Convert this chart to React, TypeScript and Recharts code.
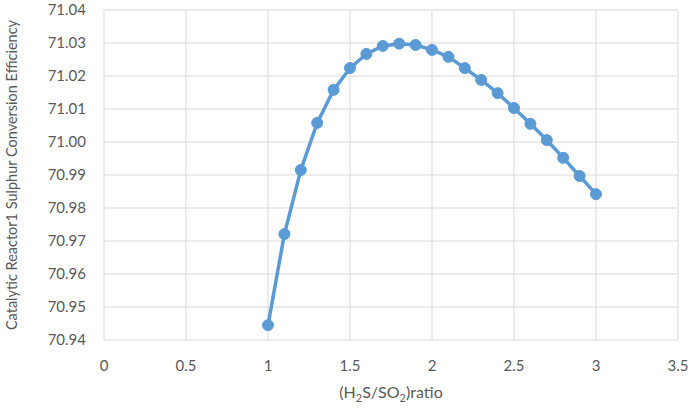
import { CartesianGrid, Line, LineChart, XAxis, YAxis } from "recharts";

const ratio = [1.0, 1.1, 1.2, 1.3, 1.4, 1.5, 1.6, 1.7, 1.8, 1.9, 2.0, 2.1, 2.2, 2.3, 2.4, 2.5, 2.6, 2.7, 2.8, 2.9, 3.0];
const efficiency = [
  70.9445, 70.9721, 70.9915, 71.0058, 71.0158, 71.0224, 71.0267, 71.0291, 71.0298, 71.0294, 71.0279,
  71.0258, 71.0224, 71.0188, 71.0148, 71.0103, 71.0055, 71.0006, 70.9952, 70.9897, 70.9842,
];
const xTicks = [0, 0.5, 1, 1.5, 2, 2.5, 3, 3.5];
const yTicks = [70.94, 70.95, 70.96, 70.97, 70.98, 70.99, 71.0, 71.01, 71.02, 71.03, 71.04];

const data = ratio.map((r, i) => ({ ratio: r, eff: efficiency[i] }));

const FONT = "Lato, 'Open Sans', sans-serif";
const TEXT = "#595959";

function XTitle(props: any) {
  const { viewBox } = props;
  const cx = viewBox.x + viewBox.width / 2;
  return (
    <text x={cx} y={398} textAnchor="middle" fill={TEXT} fontSize={16} fontFamily={FONT}>
      (H<tspan fontSize={11} dy={4}>2</tspan>
      <tspan dy={-4}>S/SO</tspan>
      <tspan fontSize={11} dy={4}>2</tspan>
      <tspan dy={-4}>)ratio</tspan>
    </text>
  );
}

function YTitle(props: any) {
  const { viewBox } = props;
  const cy = viewBox.y + viewBox.height / 2;
  return (
    <text
      x={11}
      y={cy}
      transform={`rotate(-90, 11, ${cy})`}
      textAnchor="middle"
      dominantBaseline="central"
      fill={TEXT}
      fontSize={14.5}
      fontFamily={FONT}
    >
      Catalytic Reactor1 Sulphur Conversion Efficiency
    </text>
  );
}

export default function App() {
  return (
    <div style={{ position: "absolute", left: 0, top: 0, background: "#fff" }}>
      <LineChart width={691} height={410} data={data} margin={{ top: 10, right: 13, bottom: 0, left: 0 }}>
        <CartesianGrid stroke="#d9d9d9" strokeWidth={1} />
        <XAxis
          dataKey="ratio"
          type="number"
          domain={[0, 3.5]}
          ticks={xTicks}
          height={70}
          axisLine={false}
          tickLine={false}
          tickSize={6}
          tickMargin={14}
          tick={{ fill: TEXT, fontSize: 15, fontFamily: FONT }}
          label={<XTitle />}
        />
        <YAxis
          type="number"
          domain={[70.94, 71.04]}
          ticks={yTicks}
          width={104}
          axisLine={false}
          tickLine={false}
          tickSize={8}
          tickMargin={10}
          tickFormatter={(v: number) => v.toFixed(2)}
          tick={{ fill: TEXT, fontSize: 15, fontFamily: FONT }}
          label={<YTitle />}
        />
        <Line
          dataKey="eff"
          stroke="#5b9bd5"
          strokeWidth={3.5}
          dot={{ r: 5.5, fill: "#5b9bd5", stroke: "#5b9bd5", strokeWidth: 1 }}
          isAnimationActive={false}
        />
      </LineChart>
    </div>
  );
}
